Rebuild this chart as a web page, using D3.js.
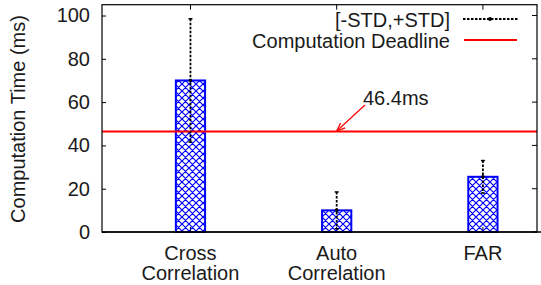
<!DOCTYPE html>
<html>
<head>
<meta charset="utf-8">
<script src="https://cdn.jsdelivr.net/npm/d3@7"></script>
<style>
  html, body { margin: 0; padding: 0; background: #fff; }
  svg { display: block; font-family: "Liberation Sans", Arial, sans-serif; }
</style>
</head>
<body>
<div id="chart"></div>
<script>
(function () {
'use strict';
// Computation time per method, bars with [-STD,+STD] error bars

const categories = [["Cross", "Correlation"], ["Auto", "Correlation"], ["FAR"]];
const means = [70, 10, 25.5];
const stds = [28.5, 8.5, 7.5];
const deadline = 46.4;
const yTicks = [0, 20, 40, 60, 80, 100];

const width = 541, height = 285;
const plot = {left: 102, right: 537, top: 4.7, bottom: 232};

const svg = d3.select("#chart").append("svg")
  .attr("width", width).attr("height", height);

const x = d3.scaleLinear().domain([-0.605, 2.37]).range([plot.left, plot.right]);
const y = d3.scaleLinear().domain([0, 105]).range([plot.bottom, plot.top]);

const BLUE = "#0000ff";
const RED = "#ff0000";
const barW = x(0.2) - x(0);
const fontSize = 20;

// crosshatch fill
const defs = svg.append("defs");
const P = 7;
const pat = defs.append("pattern")
  .attr("id", "hatch")
  .attr("patternUnits", "userSpaceOnUse")
  .attr("width", P).attr("height", P);
pat.append("path")
  .attr("d", `M0,0 L${P},${P} M${P},0 L0,${P} M-1,${P-1} L1,${P+1} M${P-1},-1 L${P+1},1 M-1,1 L1,-1 M${P-1},${P+1} L${P+1},${P-1}`)
  .attr("stroke", BLUE).attr("stroke-width", 1.2).attr("fill", "none");

// bottom ticks (under bars)
svg.append("g").selectAll("line").data(means).join("line")
  .attr("x1", (d, i) => x(i)).attr("x2", (d, i) => x(i))
  .attr("y1", plot.bottom).attr("y2", plot.bottom - 5)
  .attr("stroke", "#000");

// bars
svg.append("g").selectAll("rect").data(means).join("rect")
  .attr("x", (d, i) => x(i) - barW / 2)
  .attr("y", d => y(d))
  .attr("width", barW)
  .attr("height", d => y(0) - y(d))
  .attr("fill", "url(#hatch)")
  .attr("stroke", BLUE)
  .attr("stroke-width", 2);

// deadline line
svg.append("line")
  .attr("x1", plot.left).attr("x2", plot.right)
  .attr("y1", y(deadline)).attr("y2", y(deadline))
  .attr("stroke", RED).attr("stroke-width", 2);

// error bars
const eb = svg.append("g").selectAll("g").data(means).join("g");
eb.append("line")
  .attr("x1", (d, i) => x(i)).attr("x2", (d, i) => x(i))
  .attr("y1", (d, i) => y(d + stds[i])).attr("y2", (d, i) => y(d - stds[i]))
  .attr("stroke", "#000").attr("stroke-width", 1.8)
  .attr("stroke-dasharray", "2.5,1.5");
eb.selectAll("line.cap")
  .data((d, i) => [{i, v: d + stds[i]}, {i, v: d - stds[i]}])
  .join("line").attr("class", "cap")
  .attr("x1", c => x(c.i) - 2).attr("x2", c => x(c.i) + 2)
  .attr("y1", c => y(c.v)).attr("y2", c => y(c.v))
  .attr("stroke", "#000").attr("stroke-width", 1.5);
eb.append("circle")
  .attr("cx", (d, i) => x(i)).attr("cy", d => y(d))
  .attr("r", 1.8).attr("fill", "#000");

// frame
svg.append("rect")
  .attr("x", plot.left).attr("y", plot.top)
  .attr("width", plot.right - plot.left).attr("height", plot.bottom - plot.top)
  .attr("fill", "none").attr("stroke", "#000").attr("stroke-width", 1.2);
svg.append("line")
  .attr("x1", plot.left).attr("x2", width)
  .attr("y1", plot.bottom).attr("y2", plot.bottom)
  .attr("stroke", "#000").attr("stroke-width", 1.5);

// y axis ticks + labels
const yAxisG = svg.append("g").attr("transform", `translate(${plot.left},0)`);
yAxisG.call(d3.axisLeft(y).tickValues(yTicks).tickSize(-4).tickPadding(12).tickFormat(d3.format("d")));
yAxisG.select(".domain").remove();
yAxisG.selectAll("line").attr("stroke", "#000");
yAxisG.selectAll("text")
  .attr("font-size", fontSize).attr("font-family", "Liberation Sans, Arial, sans-serif")
  .attr("fill", "#1a1a1a");

// right mirror ticks
svg.append("g").selectAll("line").data(yTicks).join("line")
  .attr("x1", plot.right).attr("x2", plot.right - 5)
  .attr("y1", d => y(d)).attr("y2", d => y(d))
  .attr("stroke", "#000");

// top mirror ticks
svg.append("g").selectAll("line").data(means).join("line")
  .attr("x1", (d, i) => x(i)).attr("x2", (d, i) => x(i))
  .attr("y1", plot.top).attr("y2", plot.top + 5)
  .attr("stroke", "#000");

// category labels
const cat = svg.append("g").selectAll("text").data(categories).join("text")
  .attr("text-anchor", "middle")
  .attr("font-size", fontSize)
  .attr("fill", "#1a1a1a");
cat.selectAll("tspan").data((d, i) => d.map(s => ({s, i}))).join("tspan")
  .attr("x", d => x(d.i))
  .attr("y", (d, j) => 260 + j * 20)
  .text(d => d.s);

// y title
svg.append("text")
  .attr("transform", "translate(25,119) rotate(-90)")
  .attr("text-anchor", "middle")
  .attr("font-size", fontSize)
  .attr("fill", "#1a1a1a")
  .text("Computation Time (ms)");

// legend
const legend = svg.append("g");
legend.append("text")
  .attr("x", 450).attr("y", 27)
  .attr("text-anchor", "end").attr("font-size", fontSize).attr("fill", "#1a1a1a")
  .text("[-STD,+STD]");
legend.append("line")
  .attr("x1", 463).attr("x2", 518).attr("y1", 19).attr("y2", 19)
  .attr("stroke", "#000").attr("stroke-width", 1.8).attr("stroke-dasharray", "2.5,1.5");
legend.append("circle").attr("cx", 490).attr("cy", 19).attr("r", 2).attr("fill", "#000");
legend.append("text")
  .attr("x", 450).attr("y", 48)
  .attr("text-anchor", "end").attr("font-size", fontSize).attr("fill", "#1a1a1a")
  .text("Computation Deadline");
legend.append("line")
  .attr("x1", 464).attr("x2", 517).attr("y1", 40).attr("y2", 40)
  .attr("stroke", RED).attr("stroke-width", 2);

// annotation
defs.append("marker")
  .attr("id", "arrow").attr("viewBox", "0 0 10 10")
  .attr("refX", 10).attr("refY", 5)
  .attr("markerWidth", 7).attr("markerHeight", 7)
  .attr("orient", "auto")
  .append("path").attr("d", "M0,1 L10,5 L0,9").attr("fill", "none")
  .attr("stroke", RED).attr("stroke-width", 1.5);
svg.append("line")
  .attr("x1", 365).attr("y1", 105)
  .attr("x2", x(1)).attr("y2", y(deadline) - 0.5)
  .attr("stroke", RED).attr("stroke-width", 1.2)
  .attr("marker-end", "url(#arrow)");
svg.append("text")
  .attr("x", 363).attr("y", 105)
  .attr("font-size", fontSize).attr("fill", "#1a1a1a")
  .text(deadline + "ms");
})();
</script>
</body>
</html>
